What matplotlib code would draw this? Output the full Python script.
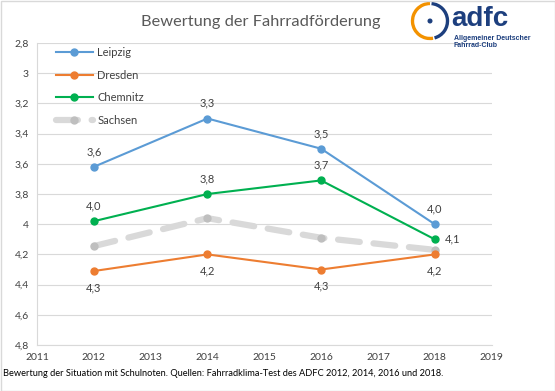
import numpy as np
import matplotlib.pyplot as plt
from matplotlib.patches import Arc, Circle, Rectangle

plt.rcParams['font.family'] = ['Lato', 'DejaVu Sans']

years = [2012, 2014, 2016, 2018]
leipzig = [3.62, 3.30, 3.50, 4.00]
dresden = [4.31, 4.20, 4.30, 4.20]
chemnitz = [3.98, 3.80, 3.71, 4.10]
sachsen = [4.145, 3.96, 4.09, 4.17]

yticks = [2.8, 3.0, 3.2, 3.4, 3.6, 3.8, 4.0, 4.2, 4.4, 4.6, 4.8]
ytick_labels = ['2,8', '3', '3,2', '3,4', '3,6', '3,8', '4', '4,2', '4,4', '4,6', '4,8']
xticks = list(range(2011, 2020))

c_leip = '#5B9BD5'
c_dres = '#ED7D31'
c_chem = '#00B050'
c_sach = '#D9D9D9'
txt = '#404040'

fig = plt.figure(figsize=(5.55, 3.91), dpi=100)
ax = fig.add_axes([0.0667, 0.1176, 0.8190, 0.7724])

ax.plot(years, sachsen, color=c_sach, lw=4.5, ls=(0, (3.5, 2.2)), marker='o', ms=5,
        mfc='#BFBFBF', mec='#BFBFBF', label='Sachsen', solid_capstyle='round',
        dash_capstyle='round', zorder=2)
ax.plot(years, dresden, color=c_dres, lw=1.5, marker='o', ms=5, label='Dresden', zorder=3)
ax.plot(years, chemnitz, color=c_chem, lw=1.5, marker='o', ms=5, label='Chemnitz', zorder=3)
ax.plot(years, leipzig, color=c_leip, lw=1.5, marker='o', ms=5, label='Leipzig', zorder=3)

def fmt(v):
    return ('%.1f' % v).replace('.', ',')

for x, v in zip(years, leipzig):
    ax.annotate(fmt(v), (x, v), xytext=(0, 11), textcoords='offset points',
                ha='center', va='center', fontsize=8, color=txt)
for x, v in zip(years, dresden):
    ax.annotate(fmt(v), (x, v), xytext=(0, -12), textcoords='offset points',
                ha='center', va='center', fontsize=8, color=txt)
for x, v in zip(years[:3], chemnitz[:3]):
    ax.annotate(fmt(v), (x, v), xytext=(0, 11), textcoords='offset points',
                ha='center', va='center', fontsize=8, color=txt)
ax.annotate(fmt(chemnitz[3]), (years[3], chemnitz[3]), xytext=(13, 0),
            textcoords='offset points', ha='center', va='center', fontsize=8, color=txt)

ax.set_xlim(2011, 2019)
ax.set_ylim(4.8, 2.8)
ax.set_yticks(yticks)
ax.set_yticklabels(ytick_labels)
ax.set_xticks(xticks)
ax.tick_params(length=0, labelsize=7.5, labelcolor=txt, pad=6)
ax.grid(axis='y', color='#D9D9D9', lw=0.8)
ax.set_axisbelow(True)
for s in ['top', 'right']:
    ax.spines[s].set_visible(False)
for s in ['left', 'bottom']:
    ax.spines[s].set_color('#D9D9D9')
    ax.spines[s].set_linewidth(0.8)

h, l = ax.get_legend_handles_labels()
order = [3, 1, 2, 0]
leg = ax.legend([h[i] for i in order], [l[i] for i in order], loc='upper left',
                bbox_to_anchor=(0.02, 1.02), frameon=False, fontsize=8,
                handlelength=3.3, labelspacing=1.05, handletextpad=0.4)
for t in leg.get_texts():
    t.set_color(txt)

fig.text(0.47, 0.945, 'Bewertung der Fahrradförderung', ha='center', va='center',
         fontsize=11.8, color='#595959')
fig.text(0.006, 0.046, 'Bewertung der Situation mit Schulnoten. Quellen: Fahrradklima-Test des ADFC 2012, 2014, 2016 und 2018.',
         ha='left', va='center', fontsize=6.7, color='black')

# logo
lax = fig.add_axes([0.0, 0.0, 1.0, 1.0], facecolor='none')
lax.set_xlim(0, 555)
lax.set_ylim(391, 0)
lax.axis('off')
lax.add_patch(Arc((430, 21), 35, 35, theta1=80, theta2=270, color='#F39200', lw=2.4))
lax.add_patch(Arc((430, 21), 35, 35, theta1=-85, theta2=75, color='#1D3F7E', lw=2.4))
lax.add_patch(Circle((430, 21), 1.8, color='#1D3F7E'))
lax.text(451, 19, 'adfc', fontsize=20, fontweight='bold', color='#1D3F7E',
         ha='left', va='center', family=['Liberation Sans', 'DejaVu Sans'])
lax.text(454, 38, 'Allgemeiner Deutscher', fontsize=5, fontweight='bold',
         color='#1D3F7E', ha='left', va='center', family=['Liberation Sans', 'DejaVu Sans'])
lax.text(454, 45.5, 'Fahrrad-Club', fontsize=5, fontweight='bold',
         color='#1D3F7E', ha='left', va='center', family=['Liberation Sans', 'DejaVu Sans'])
lax.add_patch(Rectangle((0.5, 0.5), 554, 390, fill=False, ec='#D9D9D9', lw=1))

fig.savefig('out.png', dpi=100)
